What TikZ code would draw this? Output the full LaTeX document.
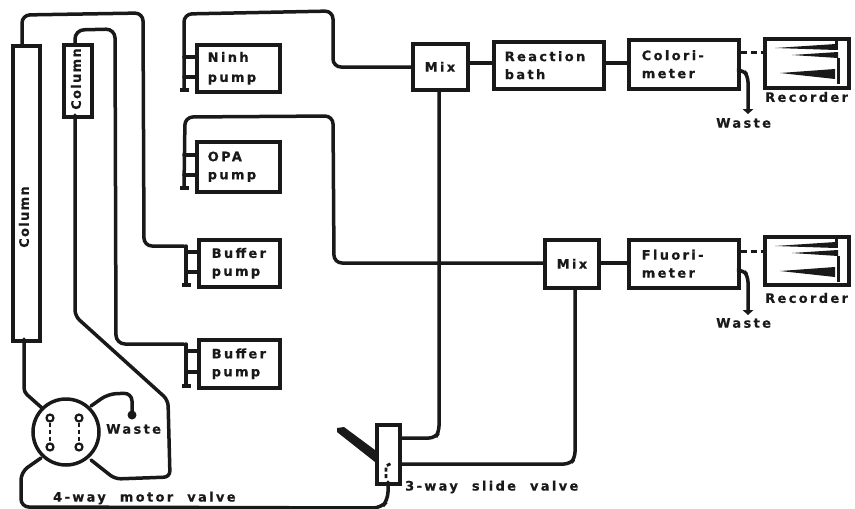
\documentclass[tikz,border=0pt]{standalone}
\usepackage{fontspec}
\setmainfont[LetterSpace=18,BoldFeatures={FakeBold=0.5}]{DejaVu Sans}
\begin{document}
\begin{tikzpicture}[x=1pt,y=-1pt,
  line cap=round,
  ln/.style={line width=3.5pt,rounded corners=6pt,black!90},
  box/.style={draw=black!90,line width=3.5pt,fill=white,inner sep=0pt,align=left,font=\bfseries\fontsize{13}{18}\selectfont,text=black!90},
  lab/.style={inner sep=0pt,font=\bfseries\fontsize{13}{15}\selectfont,text=black!90},
  port/.style={circle,draw=black!90,line width=2.2pt,fill=white,minimum size=7pt,inner sep=0pt}]
\useasboundingbox (0,0) rectangle (855,509);
\newcommand{\bx}[6]{\node[box,minimum width=#3 pt,minimum height=#4 pt,text width=#3 pt,anchor=north west,#6] (#1) at (#2) {#5};}
% boxes
\bx{longcol}{11,44}{27}{295}{}{}
\bx{shortcol}{62,43}{28}{72}{}{}
\node[lab,rotate=90] (t1) at (24,217) {\addfontfeature{LetterSpace=10}Column};
\node[lab,rotate=90] (t2) at (76,79) {\addfontfeature{LetterSpace=10}Column};
\bx{ninh}{195,43}{83}{47}{\hspace*{11pt}Ninh\\[2pt]\hspace*{11pt}pump}{}
\bx{opa}{195,140}{83}{50}{\hspace*{11pt}OPA\\\hspace*{11pt}pump}{}
\bx{buf1}{197,238}{81}{47}{\hspace*{13pt}Buffer\\\hspace*{13pt}pump}{}
\bx{buf2}{197,338}{81}{48}{\hspace*{13pt}Buffer\\\hspace*{13pt}pump}{}
\bx{mix1}{411,42}{55}{46}{\hspace*{12pt}Mix}{}
\bx{mix2}{543,238}{54}{48}{\hspace*{12pt}Mix}{}
\bx{bath}{492,40}{110}{47}{\hspace*{11pt}Reaction\\\hspace*{11pt}bath}{}
\bx{color}{627,38}{110}{49}{\hspace*{13pt}Colori-\\\hspace*{13pt}meter}{}
\bx{fluor}{627,238}{110}{48}{\hspace*{13pt}Fluori-\\\hspace*{13pt}meter}{}
\bx{rec1}{763,37}{84}{49}{}{}
\bx{rec2}{763,235}{84}{48}{}{}
\bx{valve}{375,423}{23}{59}{}{}
\node[circle,draw=black!90,line width=3.5pt,minimum size=66pt,inner sep=0pt] (mv) at (66,432) {};
% column connections
\coordinate (a1) at (22,44);\coordinate (a2) at (75,43);\coordinate (a3) at (75,115);\coordinate (a4) at (24,339);
\draw[ln,rounded corners=8pt] (a1) -- (22,15) -- (143,13) -- (144,246) -- (184,246);
\draw[ln,rounded corners=9pt] (a2) -- (75,30) -- (115,29) -- (116,344) -- (184,344);
\draw[ln] (a3) -- (75,316) -- (168,400) -- (170,477) -- (115,479) -- (91,460);
\draw[ln,rounded corners=4pt] (a4) -- (24,392) -- (42,408);
\draw[ln,rounded corners=8pt] (91,406) -- (108,394) -- (132,393) -- (132,414);
\draw[ln,rounded corners=8pt] (41,458) -- (21,472) -- (21,507) -- (381,508) -- (388,500) -- (388,482);
\fill[black!90] (132,415) circle (4.5);
% pump manifolds
\coordinate (n0) at (184,90);\coordinate (o0) at (184,188);\coordinate (b0) at (186,285);\coordinate (c0) at (186,386);
\draw[ln,rounded corners=8pt] (n0) -- (184,14) -- (333,11) -- (333,67) -- (mix1.west |- 0,67);
\draw[ln,rounded corners=8pt] (o0) -- (185,117) -- (333,116) -- (334,263) -- (mix2.west |- 0,263);
\draw[ln] (184,57) -- (ninh.west |- 0,57) (184,77) -- (ninh.west |- 0,77);
\draw[ln] (184,155) -- (opa.west |- 0,155) (184,175) -- (opa.west |- 0,175);
\draw[ln] (186,246) -- (186,285) (186,252) -- (buf1.west |- 0,252) (186,272) -- (buf1.west |- 0,272);
\draw[ln] (186,344) -- (186,386) (186,351) -- (buf2.west |- 0,351) (186,372) -- (buf2.west |- 0,372);
\foreach \p in {n0,o0,b0,c0}\fill[black!90] (\p) ++(-4.5,-2) rectangle +(9,3.5);
% main flow
\draw[ln] (mix1.east |- 0,63) -- (bath.west |- 0,63);
\draw[ln] (bath.east |- 0,63) -- (color.west |- 0,63);
\draw[ln] (mix2.east |- 0,263) -- (fluor.west |- 0,263);
\draw[line width=3pt,black!90,dash pattern=on 6pt off 4pt,line cap=butt] (color.east |- 0,52) -- (rec1.west |- 0,52);
\draw[line width=3pt,black!90,dash pattern=on 6pt off 4pt,line cap=butt] (fluor.east |- 0,251) -- (rec2.west |- 0,251);
\draw[ln] (mix1.south -| 439,0) -- (439,432) -- (435,438) -- (valve.east |- 0,438);
\draw[ln] (mix2.south -| 575,0) -- (575,458) -- (570,464) -- (valve.east |- 0,464);
% waste arrows
\coordinate (w1) at (748,109);\coordinate (w2) at (748,310);
\draw[ln] (color.east |- 0,70) -- (743,70) -- (748,76) -- (w1);
\draw[ln] (fluor.east |- 0,270) -- (743,270) -- (748,276) -- (w2);
\fill[black!90] (w1) ++(-5.5,0) -- ++(11,0) -- ++(-5.5,5) -- cycle;
\fill[black!90] (w2) ++(-5.5,0) -- ++(11,0) -- ++(-5.5,5) -- cycle;
% handle
\coordinate (h) at (339,429);
\fill[black!90] (h) ++(-2,-1) -- (344,427) -- (375,450) -- (375,462) -- (337,432) -- cycle;
% valve inner
\draw[line width=2.8pt,black!90,dash pattern=on 4pt off 2.5pt,line cap=butt] (386,478) -- (386,466) -- (392,463);
% motor valve ports
\foreach \x in {50,79}{
  \node[port] (pa\x) at (\x,418) {};
  \node[port] (pb\x) at (\x,447) {};
  \draw[line width=2.6pt,black!90,dash pattern=on 4pt off 3pt,line cap=butt] (pa\x) -- (pb\x);
}
% recorder traces
\foreach \y in {37,235}{
  \begin{scope}[shift={(763,\y)}]
  \fill[black!90] (12,11) -- (73,7) -- (73,13) -- cycle;
  \fill[black!90] (29,18) -- (75,15) -- (75,21) -- cycle;
  \fill[black!90] (17,36) -- (72,32) -- (72,42) -- cycle;
  \draw[line width=3pt,black!90,line cap=butt] (73,2) -- (73,13) (75,21) -- (75,47);
  \end{scope}
}
% labels
\node[lab,anchor=west] (t3) at (53,498) {4-way\hspace{14pt}motor\hspace{14pt}valve};
\node[lab,anchor=west] (t4) at (405,487) {3-way\hspace{14pt}slide\hspace{14pt}valve};
\node[lab,anchor=west] (t5) at (106,429) {Waste};
\node[lab,anchor=west] (t6) at (765,97) {Recorder};
\node[lab,anchor=west] (t7) at (716,123) {Waste};
\node[lab,anchor=west] (t8) at (765,298) {Recorder};
\node[lab,anchor=west] (t9) at (716,323) {Waste};
\end{tikzpicture}
\end{document}
